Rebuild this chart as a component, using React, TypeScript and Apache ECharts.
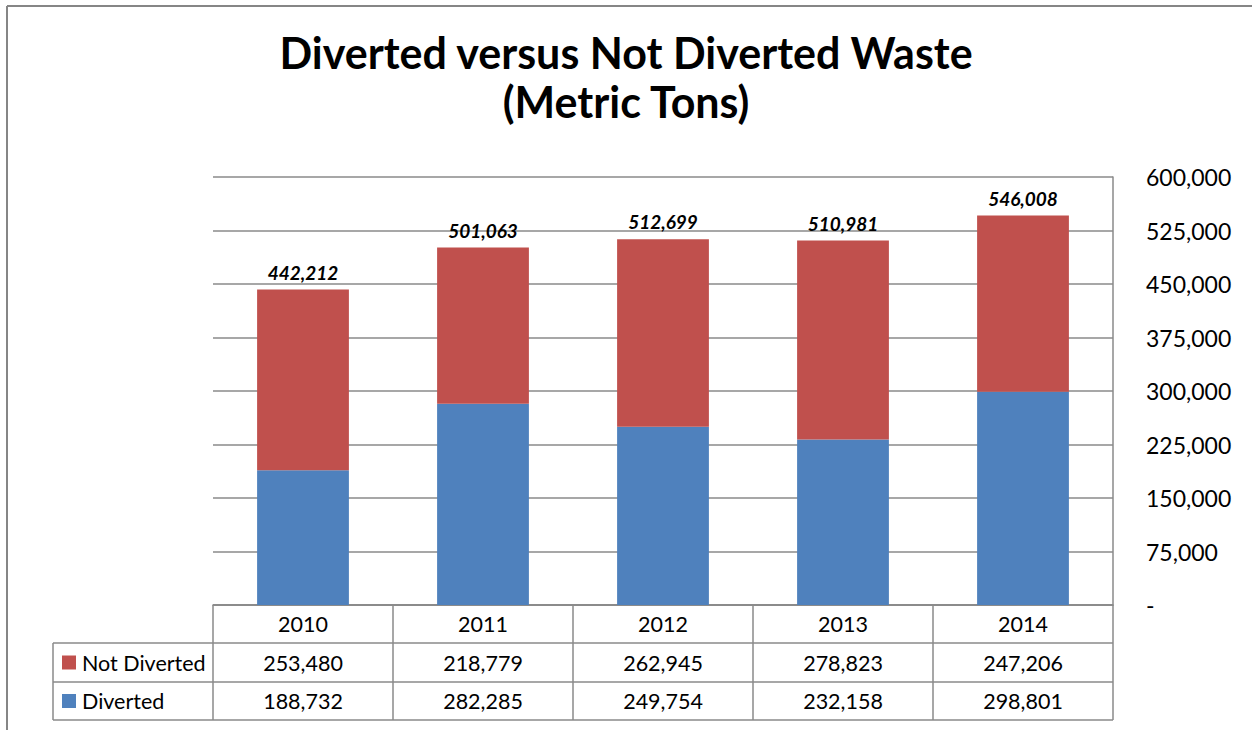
import React, { useEffect, useRef } from "react";
import * as echarts from "echarts";

const years = ["2010", "2011", "2012", "2013", "2014"];
const notDiverted = [253480, 218779, 262945, 278823, 247206];
const diverted = [188732, 282285, 249754, 232158, 298801];
const totals = [442212, 501063, 512699, 510981, 546008];
const seriesNames = ["Not Diverted", "Diverted"];
const seriesColors = ["#C0504D", "#4F81BD"];
const yMin = 0;
const yMax = 600000;
const yStep = 75000;

const W = 1252;
const H = 730;
const FONT = "Lato, 'Open Sans', sans-serif";
const LINE = "#8a8a8a";

const fmt = (v: number) => v.toLocaleString("en-US");

export default function App() {
  const ref = useRef<HTMLDivElement>(null);
  useEffect(() => {
    document.body.style.margin = "0";
    if (!ref.current) return;
    const chart = echarts.init(ref.current, undefined, { renderer: "svg", width: W, height: H });
    const gridLeft = 213;
    const gridRight = 1113;
    const gridTop = 177;
    const gridBottom = 605;
    chart.setOption({
      animation: false,
      backgroundColor: "#ffffff",
      textStyle: { fontFamily: FONT },
      title: {
        text: "Diverted versus Not Diverted Waste\n(Metric Tons)",
        left: "center",
        top: 23,
        padding: 5,
        textStyle: {
          fontFamily: FONT,
          fontWeight: "bold",
          fontSize: 43,
          lineHeight: 49,
          color: "#000",
        },
      },
      grid: {
        left: gridLeft,
        right: W - gridRight,
        top: gridTop,
        bottom: H - gridBottom,
        containLabel: false,
      },
      xAxis: {
        type: "category",
        data: years,
        axisLine: { show: true, lineStyle: { color: LINE, width: 1.5 } },
        axisTick: { show: false },
        axisLabel: { show: false },
      },
      yAxis: {
        type: "value",
        position: "right",
        min: yMin,
        max: yMax,
        interval: yStep,
        axisLine: { show: true, lineStyle: { color: LINE, width: 1.5 } },
        axisTick: { show: false },
        splitLine: { show: true, lineStyle: { color: LINE, width: 1.5 } },
        axisLabel: {
          margin: 33,
          align: "left",
          fontSize: 23,
          fontFamily: FONT,
          color: "#000",
          formatter: (v: number) => (v === 0 ? "-" : fmt(v)),
        },
      },
      series: [
        {
          name: seriesNames[1],
          type: "bar",
          stack: "total",
          barWidth: "51%",
          data: diverted,
          itemStyle: { color: seriesColors[1] },
        },
        {
          name: seriesNames[0],
          type: "bar",
          stack: "total",
          data: notDiverted,
          itemStyle: { color: seriesColors[0] },
          label: {
            show: true,
            position: "top",
            distance: 8,
            fontFamily: FONT,
            fontSize: 19,
            fontWeight: "bold",
            fontStyle: "italic",
            color: "#000",
            formatter: (p: any) => fmt(totals[p.dataIndex]),
          },
        },
      ],
    });

    // data table below the plot
    const centers = years.map((_, i) => chart.convertToPixel({ xAxisIndex: 0 }, i) as number);
    const colW = years.length > 1 ? centers[1] - centers[0] : gridRight - gridLeft;
    const rowTops = [gridBottom, 643, 682, 720];
    const tableLeft = 53;
    const g: any[] = [];
    const lineEl = (x1: number, y1: number, x2: number, y2: number, color = LINE, w = 1.5) => ({
      type: "line",
      shape: { x1, y1, x2, y2 },
      style: { stroke: color, lineWidth: w },
      silent: true,
    });
    // outer chart border (top and left)
    g.push(lineEl(7, 6, W, 6, "#868686", 2));
    g.push(lineEl(7, 6, 7, H, "#868686", 2));
    // horizontal lines
    g.push(lineEl(gridLeft, rowTops[0], gridRight, rowTops[0]));
    for (let r = 1; r < rowTops.length; r++) {
      g.push(lineEl(tableLeft, rowTops[r], gridRight, rowTops[r]));
    }
    // vertical lines
    g.push(lineEl(tableLeft, rowTops[1], tableLeft, rowTops[3]));
    for (let c = 0; c <= years.length; c++) {
      const x = centers[0] - colW / 2 + c * colW;
      g.push(lineEl(x, rowTops[0], x, rowTops[3]));
    }
    const cellText = (text: string, x: number, y: number, align: string = "center") => ({
      type: "text",
      x,
      y,
      style: {
        text,
        fill: "#000",
        font: `21.5px ${FONT}`,
        align,
        verticalAlign: "middle",
      },
      silent: true,
    });
    years.forEach((yr, i) => {
      g.push(cellText(yr, centers[i], (rowTops[0] + rowTops[1]) / 2));
      g.push(cellText(fmt(notDiverted[i]), centers[i], (rowTops[1] + rowTops[2]) / 2));
      g.push(cellText(fmt(diverted[i]), centers[i], (rowTops[2] + rowTops[3]) / 2));
    });
    const rowData = [seriesNames[0], seriesNames[1]];
    rowData.forEach((name, r) => {
      const cy = (rowTops[r + 1] + rowTops[r + 2]) / 2;
      g.push({
        type: "rect",
        shape: { x: 62, y: cy - 7, width: 14, height: 14 },
        style: { fill: seriesColors[r] },
        silent: true,
      });
      g.push(cellText(name, 82, cy, "left"));
    });
    chart.setOption({ graphic: g });

    return () => chart.dispose();
  }, []);
  return <div ref={ref} style={{ width: W, height: H }} />;
}
